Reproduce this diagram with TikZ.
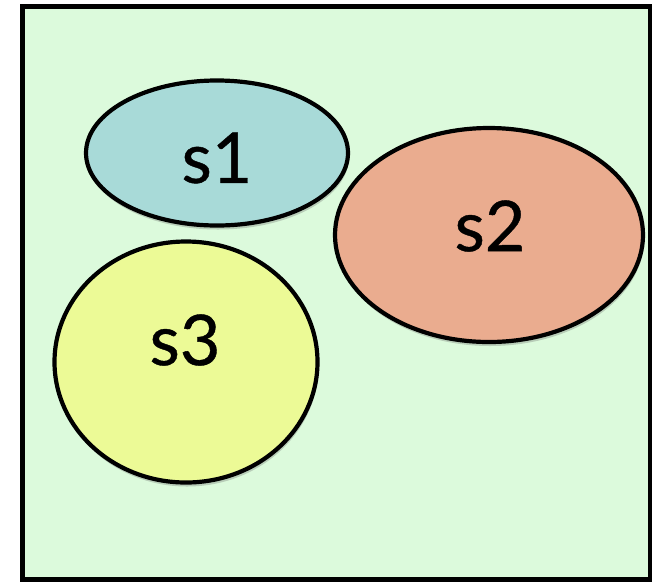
\documentclass[tikz,border=0pt]{standalone}
\usepackage{fontspec}
\newfontfamily\setfont[FakeBold=0.6]{Lato}
\usetikzlibrary{shapes.geometric,shadows}
\definecolor{setgreen}{RGB}{220,250,220}
\definecolor{setblue}{RGB}{168,218,216}
\definecolor{setsalmon}{RGB}{234,172,143}
\definecolor{setlime}{RGB}{236,250,150}

\tikzset{
  setblob/.style={ellipse, draw=black, line width=4.2pt, inner sep=0pt,
    drop shadow={shadow xshift=1pt, shadow yshift=-4pt, opacity=0.3, fill=black!60}},
  setlabel/.style={font=\setfont\fontsize{70}{70}\selectfont}
}

\begin{document}
\begin{tikzpicture}[x=1pt, y=-1pt]
    \useasboundingbox (0,0) rectangle (652,582);

    % Universe
    \draw[fill=setgreen, line width=5pt] (22,6) rectangle (650,579);

    % The three sets
    \node[setblob, fill=setblue, minimum width=262pt, minimum height=145pt] (s1) at (217,153) {};
    \node[setblob, fill=setsalmon, minimum width=308pt, minimum height=214pt] (s2) at (489,235) {};
    \node[setblob, fill=setlime, minimum width=263pt, minimum height=241pt] (s3) at (186,362) {};

    % Labels
    \node[setlabel] (l1) at (217,158) {s1};
    \node[setlabel] (l2) at (490,226) {s2};
    \node[setlabel] (l3) at (185,340) {s3};
\end{tikzpicture}
\end{document}
